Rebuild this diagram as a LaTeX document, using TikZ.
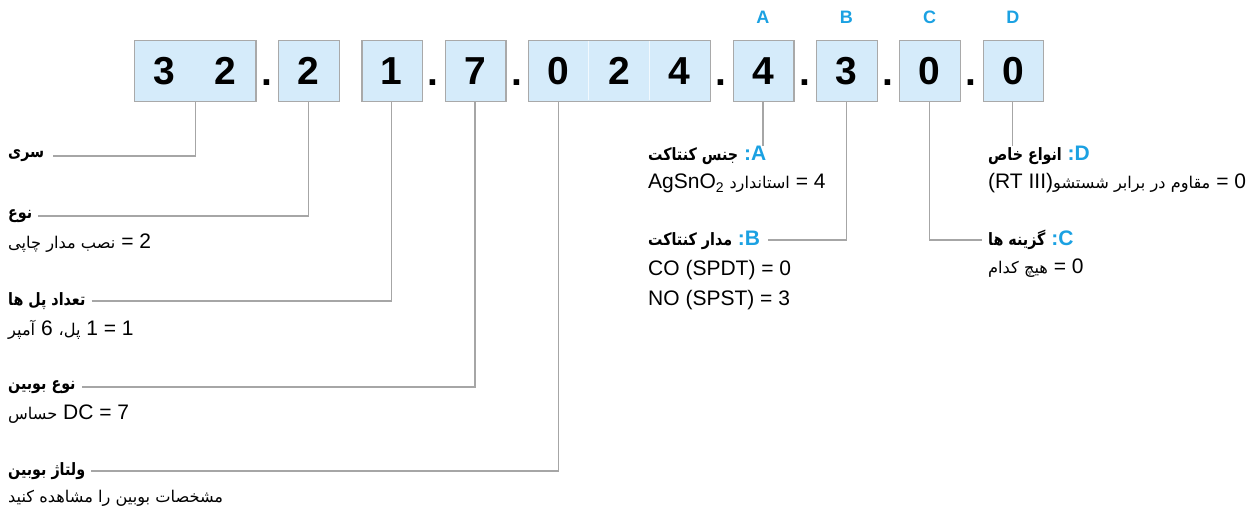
\documentclass[tikz,border=0pt]{standalone}
\usepackage{fontspec}
\usepackage{graphicx}
\setmainfont{Liberation Sans}
\newfontfamily\fa[Script=Arabic]{DejaVu Sans}
\TeXXeTstate=1
\definecolor{boxfill}{HTML}{D5EBFA}
\definecolor{boxline}{HTML}{A9A9A9}
\definecolor{conncol}{HTML}{A6A6A6}
\definecolor{fblue}{HTML}{1BA1E2}
\newcommand\faR[1]{{\fa\fontsize{16.2}{16.2}\selectfont\beginR #1\endR}}
\newcommand\faB[1]{\scalebox{0.84}[1]{\fa\bfseries\fontsize{17}{17}\selectfont\beginR #1\endR}}
\tikzset{
  cell/.style={draw=boxline, fill=boxfill, line width=1.2pt, minimum height=60.7pt, inner sep=0pt, anchor=north west},
  digit/.style={font=\bfseries\fontsize{39}{39}\selectfont, inner sep=0pt},
  letter/.style={text=fblue, font=\bfseries\fontsize{18}{18}\selectfont, inner sep=0pt},
  lab/.style={anchor=west, inner sep=0pt, font=\fontsize{21}{21}\selectfont},
  connl/.style={draw=conncol, line width=1.2pt},
  divl/.style={draw=white!70!boxfill, line width=1pt}
}
\begin{document}
\begin{tikzpicture}[x=1pt,y=-1pt]
\useasboundingbox (0,0) rectangle (1251,514);
% boxes
\node[cell, minimum width=121.4pt] (b1) at (134,40) {};
\node[cell, minimum width=60.7pt] (b2) at (278,40) {};
\node[cell, minimum width=60.7pt] (b3) at (361.3,40) {};
\node[cell, minimum width=60.7pt] (b4) at (444.6,40) {};
\node[cell, minimum width=182.1pt] (b5) at (527.9,40) {};
\node[cell, minimum width=60.7pt] (bA) at (732.6,40) {};
\node[cell, minimum width=60.7pt] (bB) at (815.9,40) {};
\node[cell, minimum width=60.7pt] (bC) at (899.2,40) {};
\node[cell, minimum width=60.7pt] (bD) at (982.5,40) {};
\draw[divl] (588.6,40.8) -- (588.6,99.9);
\draw[divl] (649.3,40.8) -- (649.3,99.9);
% digits
\node[digit] (d1a) at (164.35,70.8) {3};
\node[digit] (d1b) at (225.05,70.8) {2};
\node[digit] (d2) at (308.35,70.8) {2};
\node[digit] (d3) at (391.65,70.8) {1};
\node[digit] (d4) at (474.95,70.8) {7};
\node[digit] (d5a) at (558.25,70.8) {0};
\node[digit] (d5b) at (618.95,70.8) {2};
\node[digit] (d5c) at (679.65,70.8) {4};
\node[digit] (dA) at (762.95,70.8) {4};
\node[digit] (dB) at (846.25,70.8) {3};
\node[digit] (dC) at (929.55,70.8) {0};
\node[digit] (dD) at (1012.85,70.8) {0};
% dots
\foreach \x/\n in {266.7/p1,433.3/p2,516.6/p3,721.3/p4,804.6/p5,887.9/p6,971.2/p7}
  \node[digit, anchor=base] (\n) at (\x,85) {.};
% letters
\node[letter] (tA) at (762.95,17) {A};
\node[letter] (tB) at (846.25,17) {B};
\node[letter] (tC) at (929.55,17) {C};
\node[letter] (tD) at (1012.85,17) {D};
% left labels
\node[lab] (l1) at (8,156) {\faB{سری}};
\node[lab] (l2) at (8,216) {\faB{نوع}};
\node[lab] (v2) at (8,243) {\faR{نصب مدار چاپی} = 2};
\node[lab] (l3) at (8,301) {\faB{تعداد پل ها}};
\node[lab] (v3) at (8,330) {\faR{آمپر} 6 \faR{پل،} 1 = 1};
\node[lab] (l4) at (8,387) {\faB{نوع بوبین}};
\node[lab] (v4) at (8,414) {\faR{حساس} DC = 7};
\node[lab] (l5) at (8,471) {\faB{ولتاژ بوبین}};
\node[lab] (v5) at (8,498) {\faR{مشخصات بوبین را مشاهده کنید}};
% middle labels
\node[lab] (lA) at (648,155) {\faB{جنس کنتاکت}\ \textcolor{fblue}{\bfseries :A}};
\node[lab] (vA) at (648,183) {AgSnO\raisebox{-4pt}{\fontsize{14}{14}\selectfont 2} \faR{استاندارد} = 4};
\node[lab] (lB) at (648,240) {\faB{مدار کنتاکت}\ \textcolor{fblue}{\bfseries :B}};
\node[lab] (vB1) at (648,270) {CO (SPDT) = 0};
\node[lab] (vB2) at (648,300) {NO (SPST) = 3};
% right labels
\node[lab] (lD) at (988,155) {\faB{انواع خاص}\ \textcolor{fblue}{\bfseries :D}};
\node[lab] (vD) at (988,183) {(RT III)\faR{مقاوم در برابر شستشو} = 0};
\node[lab] (lC) at (988,240) {\faB{گزینه ها}\ \textcolor{fblue}{\bfseries :C}};
\node[lab] (vC) at (988,268) {\faR{هیچ کدام} = 0};
% connectors
\draw[connl] ([xshift=9pt]l1.east) -- (l1.east -| b1.south) -- (b1.south);
\draw[connl] ([xshift=6pt]l2.east) -- (l2.east -| d2.south) -- (d2 |- b2.south);
\draw[connl] ([xshift=6pt]l3.east) -- (l3.east -| d3.south) -- (d3 |- b3.south);
\draw[connl] ([xshift=6pt]l4.east) -- (l4.east -| d4.south) -- (d4 |- b4.south);
\draw[connl] ([xshift=6pt]l5.east) -- (l5.east -| d5a.south) -- (d5a |- b5.south);
\draw[connl] (dA |- bA.south) -- (dA |- lA.north);
\draw[connl] ([xshift=8pt]lB.east) -- (lB.east -| dB.south) -- (dB |- bB.south);
\draw[connl] (dD |- bD.south) -- (dD |- lD.north);
\draw[connl] ([xshift=-6pt]lC.west) -- (lC.west -| dC.south) -- (dC |- bC.south);
\end{tikzpicture}
\end{document}
